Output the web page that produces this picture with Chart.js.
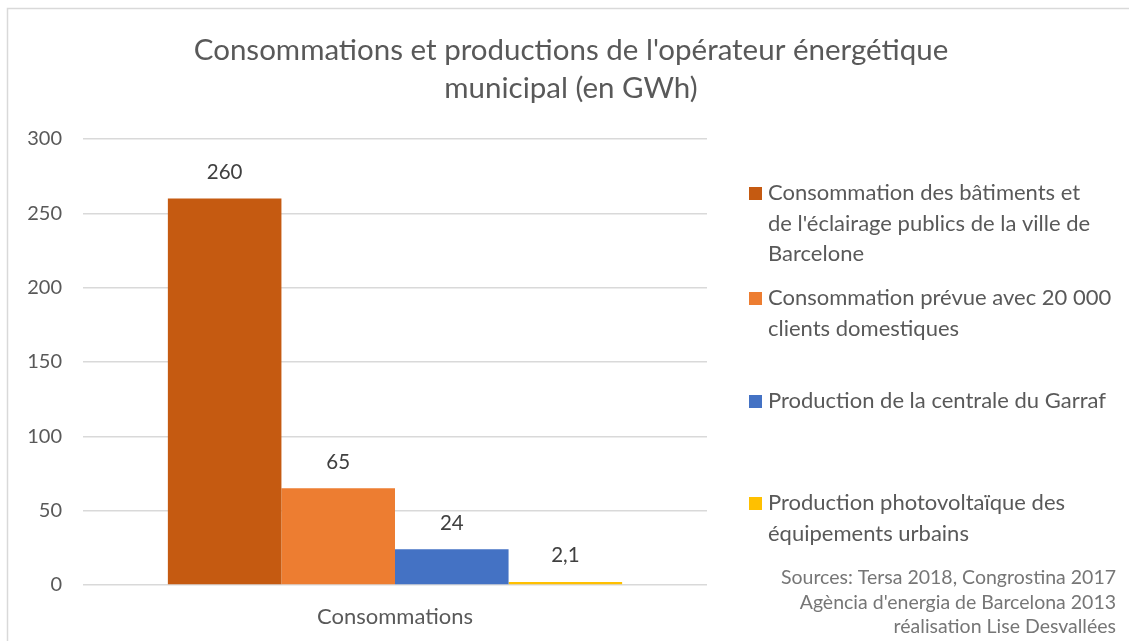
<!DOCTYPE html>
<html lang="fr">
<head>
<meta charset="UTF-8">
<title>Consommations et productions</title>
<script src="https://cdn.jsdelivr.net/npm/chart.js"></script>
<style>
  html, body { margin: 0; padding: 0; background: #fff; }
  #wrap { width: 1129px; height: 641px; position: relative; }
</style>
</head>
<body>
<div id="wrap"><canvas id="energyChart" width="1129" height="641"></canvas></div>
<script>
    const categories = ['Consommations'];
    const seriesNames = [
        ['Consommation des bâtiments et', "de l'éclairage publics de la ville de", 'Barcelone'],
        ['Consommation prévue avec 20 000', 'clients domestiques'],
        ['Production de la centrale du Garraf'],
        ['Production photovoltaïque des', 'équipements urbains']
    ];
    const seriesValues = [260, 65, 24, 2.1];
    const seriesColors = ['#C55A11', '#ED7D31', '#4472C4', '#FFC000'];
    const yTicks = [0, 50, 100, 150, 200, 250, 300];
    const titleLines = ["Consommations et productions de l'opérateur énergétique", 'municipal (en GWh)'];
    const sourceLines = ['Sources: Tersa 2018, Congrostina 2017', "Agència d'energia de Barcelona 2013", 'réalisation Lise Desvallées'];

    const FONT = 'Lato, "Open Sans", sans-serif';

    // frame, title, value labels, legend and sources drawn straight on the canvas
    const decorations = {
        id: 'decorations',
        beforeDraw(chart) {
            const ctx = chart.ctx;
            ctx.save();
            ctx.fillStyle = '#fff';
            ctx.fillRect(0, 0, chart.width, chart.height);
            ctx.strokeStyle = '#d9d9d9';
            ctx.lineWidth = 1.5;
            ctx.beginPath();
            ctx.moveTo(7.5, chart.height);
            ctx.lineTo(7.5, 8.5);
            ctx.lineTo(chart.width, 8.5);
            ctx.stroke();
            ctx.restore();
        },
        afterDraw(chart) {
            const ctx = chart.ctx;
            ctx.save();

            // title
            ctx.fillStyle = '#595959';
            ctx.font = '29.5px ' + FONT;
            ctx.textAlign = 'center';
            ctx.textBaseline = 'middle';
            titleLines.forEach((t, i) => ctx.fillText(t, 571, 50 + i * 38));

            // value labels above the bars
            ctx.fillStyle = '#404040';
            ctx.font = '20.5px ' + FONT;
            chart.data.datasets.forEach((ds, i) => {
                chart.getDatasetMeta(i).data.forEach((bar, j) => {
                    const txt = String(ds.data[j]).replace('.', ',');
                    ctx.fillText(txt, bar.x, bar.y - 26);
                });
            });

            // legend
            const legendTops = [193, 298, 401, 503];
            ctx.font = '22px ' + FONT;
            ctx.textAlign = 'left';
            seriesNames.forEach((lines, i) => {
                ctx.fillStyle = seriesColors[i];
                ctx.fillRect(749, legendTops[i] - 6, 13, 13);
                ctx.fillStyle = '#595959';
                lines.forEach((l, k) => ctx.fillText(l, 768, legendTops[i] + k * 30.5));
            });

            // sources
            ctx.fillStyle = '#767676';
            ctx.font = '19.5px ' + FONT;
            ctx.textAlign = 'right';
            sourceLines.forEach((l, k) => ctx.fillText(l, 1116, 578 + k * 24.5));

            ctx.restore();
        }
    };

    new Chart(document.getElementById('energyChart'), {
        type: 'bar',
        data: {
            labels: categories,
            datasets: seriesValues.map((v, i) => ({
                label: seriesNames[i].join(' '),
                data: [v],
                backgroundColor: seriesColors[i],
                borderWidth: 0,
                barPercentage: 1,
                categoryPercentage: 0.728
            }))
        },
        options: {
            responsive: false,
            animation: false,
            layout: { padding: { top: 139, right: 422, bottom: 0, left: 0 } },
            plugins: {
                legend: { display: false },
                title: { display: false },
                tooltip: { enabled: false }
            },
            scales: {
                x: {
                    grid: { display: false },
                    border: { display: false },
                    ticks: { color: '#595959', font: { family: FONT, size: 22 }, padding: 11 },
                    afterFit(scale) { scale.height = 56; }
                },
                y: {
                    min: 0,
                    max: 300,
                    afterBuildTicks(scale) { scale.ticks = yTicks.map(v => ({ value: v })); },
                    grid: { color: '#d9d9d9', lineWidth: 1.5, drawTicks: false },
                    border: { display: false },
                    ticks: { color: '#595959', font: { family: FONT, size: 20 }, padding: 21 },
                    afterFit(scale) { scale.width = 83; }
                }
            }
        },
        plugins: [decorations]
    });
</script>
</body>
</html>
